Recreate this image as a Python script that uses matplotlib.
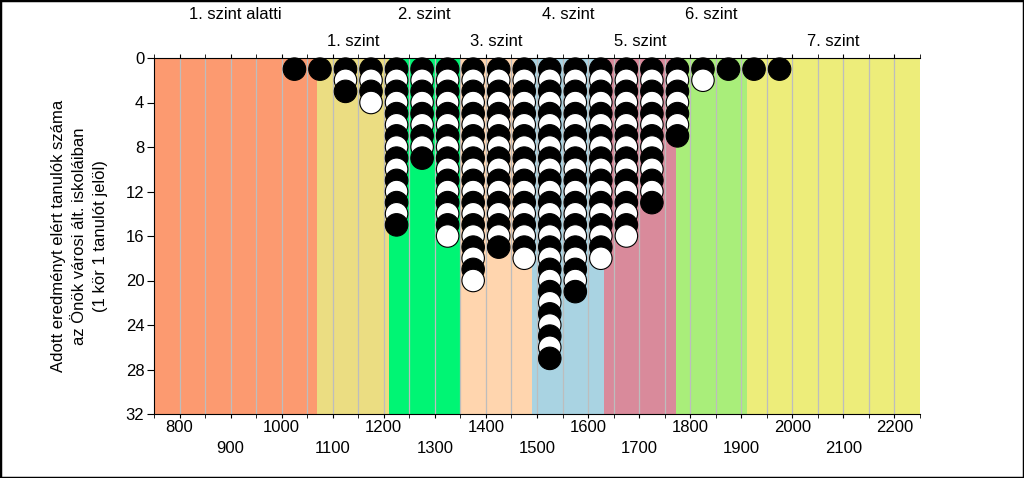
import matplotlib.pyplot as plt
from matplotlib.patches import Rectangle
import numpy as np

plt.rcParams['font.family'] = ['Liberation Sans', 'DejaVu Sans']

# score bands (level boundaries) and colours
band_edges = [750, 1070, 1210, 1350, 1491, 1632, 1772, 1912, 2250]
band_colors = ['#fc9a70', '#ebdd82', '#00f574', '#ffd5ae', '#a9d3e2',
               '#d98a9b', '#a9ee7a', '#eded7a']
band_names = ['1. szint alatti', '1. szint', '2. szint', '3. szint',
              '4. szint', '5. szint', '6. szint', '7. szint']

# students per 50-point score column
col_x = [1025, 1075, 1125, 1175, 1225, 1275, 1325, 1375, 1425, 1475,
         1525, 1575, 1625, 1675, 1725, 1775, 1825, 1875, 1925, 1975]
col_n = [1, 1, 3, 4, 15, 9, 16, 20, 17, 18,
         27, 21, 18, 16, 13, 7, 2, 1, 1, 1]

y_ticks = list(range(0, 33, 4))
x_labels = list(range(800, 2201, 100))

fig = plt.figure(figsize=(10.24, 4.78), dpi=100)
ax = fig.add_axes([154/1024, 1-414/478, (920-154)/1024, (414-58)/478])

for i in range(len(band_colors)):
    ax.axvspan(band_edges[i], band_edges[i+1], color=band_colors[i], lw=0, zorder=0)
    mid = (band_edges[i] + band_edges[i+1]) / 2
    ty = 1.121 if i % 2 == 0 else 1.045
    ax.text(mid, ty, band_names[i], transform=ax.get_xaxis_transform(),
            ha='center', va='center', fontsize=12, clip_on=False)

for g in range(800, 2201, 50):
    ax.axvline(g, color='#bdbdbd', lw=0.9, zorder=1)

# circles: one per student, stacked down from the top
xs, ys, cs = [], [], []
for x, n in zip(col_x, col_n):
    for k in range(1, n + 1):
        xs.append(x)
        ys.append(k)
        cs.append('black' if k % 2 == 1 else 'white')
order = np.argsort(ys, kind='stable')
ax.scatter(np.array(xs)[order], np.array(ys)[order], s=262,
           c=np.array(cs)[order], edgecolors='black', linewidths=0.8,
           zorder=3, clip_on=False)

ax.set_xlim(750, 2250)
ax.set_ylim(32, 0)
ax.set_yticks(y_ticks)
ax.tick_params(axis='y', length=5, labelsize=12, pad=2)

ax.set_xticks(x_labels)
ax.set_xticklabels([str(v) if (v // 100) % 2 == 0 else '\n' + str(v) for v in x_labels],
                   linespacing=1.55)
ax.set_xticks(np.arange(750, 2251, 50), minor=True)
ax.tick_params(axis='x', which='both', length=3, labelsize=12, pad=1,
               top=True, direction='out')

ax.spines['right'].set_visible(False)
for s in ['left', 'bottom', 'top']:
    ax.spines[s].set_linewidth(0.8)

ax.set_ylabel('Adott eredményt elért tanulók száma\naz Önök városi ált. iskoláiban\n(1 kör 1 tanulót jelöl)',
              fontsize=12, linespacing=1.5, labelpad=13)

fig.patches.append(Rectangle((0, 0), 1, 1, transform=fig.transFigure,
                             fill=False, edgecolor='black', lw=2.5))

fig.savefig('out.png', dpi=100)
